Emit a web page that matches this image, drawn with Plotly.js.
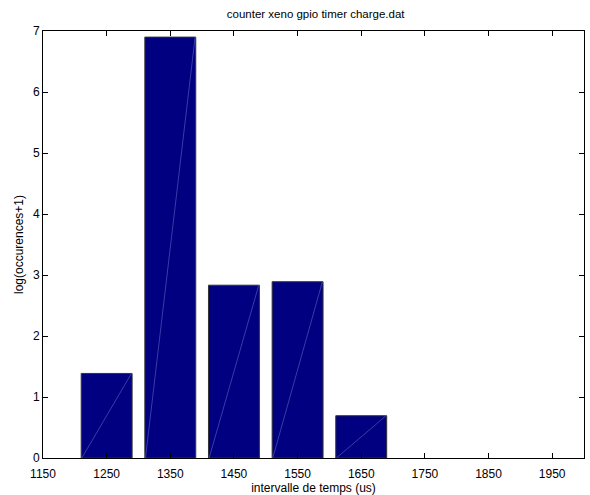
<!DOCTYPE html>
<html>
<head>
<meta charset="utf-8">
<script src="https://cdn.plot.ly/plotly-3.0.1.min.js"></script>
<style>html,body{margin:0;padding:0;background:#fff;}#chart{width:590px;height:495px;}</style>
</head>
<body>
<div id="chart"></div>
<script>
const binCenters = [1250, 1350, 1450, 1550, 1650];
const logCounts = [1.386, 6.9, 2.833, 2.890, 0.693];
const xTicks = [1150, 1250, 1350, 1450, 1550, 1650, 1750, 1850, 1950];
const yTicks = [0, 1, 2, 3, 4, 5, 6, 7];
const binWidth = 80;

const font = {family: 'Liberation Sans, Arial, sans-serif', size: 12, color: '#000'};

const traces = [{
  type: 'bar',
  x: binCenters,
  y: logCounts,
  width: binWidth,
  marker: {color: '#000080', line: {color: '#333333', width: 1}},
  hoverinfo: 'x+y'
}];
// faint diagonal line artifacts inside each bar
binCenters.forEach((c, i) => {
  traces.push({
    type: 'scatter', mode: 'lines',
    x: [c - binWidth / 2 + 1, c + binWidth / 2 - 1],
    y: [0, logCounts[i]],
    line: {color: '#5a66c0', width: 0.6},
    hoverinfo: 'skip'
  });
});

const layout = {
  width: 590, height: 495,
  margin: {l: 43, r: 6, t: 31, b: 37},
  showlegend: false,
  paper_bgcolor: '#fff', plot_bgcolor: '#fff',
  font: font,
  title: {text: 'counter xeno gpio timer charge.dat', font: {family: font.family, size: 11.5, color: '#000'}, x: 0.535, xanchor: 'center', y: 0.972, yanchor: 'middle'},
  bargap: 0,
  xaxis: {
    range: [1150, 2000], tickvals: xTicks, ticktext: xTicks.map(String),
    ticks: 'inside', ticklen: 5, tickcolor: '#000', mirror: 'ticks',
    showline: true, linecolor: '#000', linewidth: 1, showgrid: false, zeroline: false,
    ticklabelstandoff: 5,
    tickfont: {family: font.family, size: 12, color: '#000'},
    title: {text: 'intervalle de temps (us)', font: {family: font.family, size: 12, color: '#000'}, standoff: 0}
  },
  yaxis: {
    range: [0, 7], tickvals: yTicks, ticktext: yTicks.map(String),
    ticks: 'inside', ticklen: 5, tickcolor: '#000', mirror: 'ticks',
    showline: true, linecolor: '#000', linewidth: 1, showgrid: false, zeroline: false,
    tickfont: {family: font.family, size: 12, color: '#000'},
    title: {text: 'log(occurences+1)', font: {family: font.family, size: 12, color: '#000'}, standoff: 6}
  }
};

Plotly.newPlot('chart', traces, layout, {displayModeBar: false, staticPlot: true});
</script>
</body>
</html>
